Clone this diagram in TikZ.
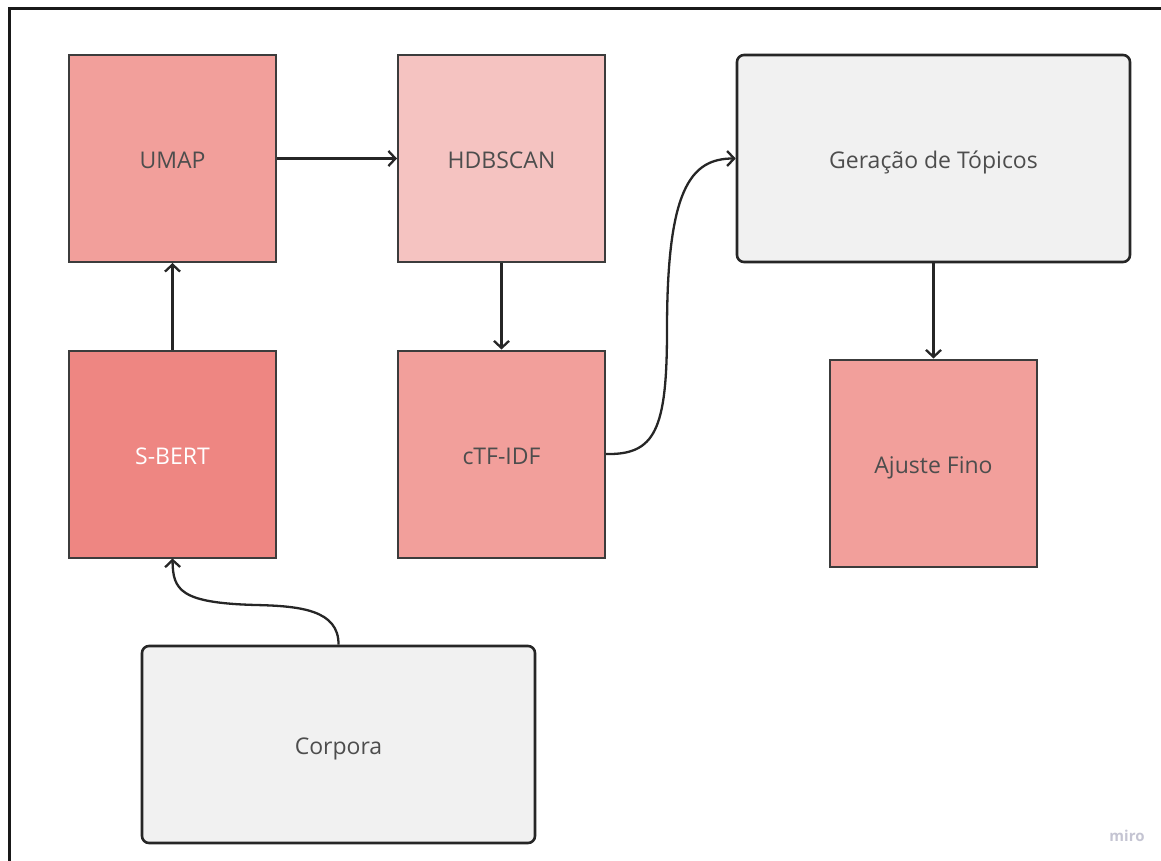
\documentclass[tikz,border=0pt]{standalone}
\usepackage{fontspec}
\setmainfont{Open Sans}
\usetikzlibrary{arrows.meta}
\definecolor{pinkbox}{HTML}{F29F9B}
\definecolor{palebox}{HTML}{F5C3C1}
\definecolor{deepbox}{HTML}{EE8682}
\definecolor{greybox}{HTML}{F1F1F1}
\definecolor{boxline}{HTML}{3C3C3C}
\definecolor{darkline}{HTML}{262626}
\definecolor{labeltext}{HTML}{4D4D4D}
\definecolor{logotext}{HTML}{C4C4D2}
\tikzset{
  x=1pt, y=-1pt,
  boxtext/.style={text=labeltext, font=\fontsize{23}{27}\selectfont,
    text height=25pt, text depth=4.5pt},
  stage/.style={boxtext, draw=boxline, line width=2pt, fill=pinkbox, inner sep=0pt,
    minimum width=207pt, minimum height=207pt},
  panel/.style={boxtext, draw=darkline, line width=2.6pt, fill=greybox, inner sep=0pt,
    rounded corners=7pt, minimum width=393pt, minimum height=207pt},
  flow/.style={draw=darkline, line width=2.3pt,
    -{Straight Barb[length=7pt,width=15pt,line width=2.3pt]}}
}
\begin{document}
\begin{tikzpicture}
\useasboundingbox (0,0) rectangle (1161,861);
% outer frame, running past the right and bottom edges
\draw[line width=3pt, black!90] (9,880) -- (9,9) -- (1180,9);

% pipeline stages
\node[stage] (umap) at (172.5,158.5) {UMAP};
\node[stage, fill=palebox] (hdb) at (501.5,158.5) {HDBSCAN};
\node[stage, fill=deepbox, text=white] (sbert) at (172.5,454) {S-BERT};
\node[stage] (ctfidf) at (501.5,454) {cTF-IDF};
\node[stage] (ajuste) at (933.5,463) {Ajuste Fino};
\node[panel] (geracao) at (933.5,158.5) {Geração de Tópicos};
\node[panel, minimum height=197pt] (corpora) at (338.5,744.5) {Corpora};

% connectors
\draw[flow] (umap.east) -- (hdb.west);
\draw[flow] (sbert.north) -- (umap.south);
\draw[flow] (hdb.south) -- (ctfidf.north);
\draw[flow] (geracao.south) -- (ajuste.north);
\draw[flow] (ctfidf.east) .. controls (655,455) and (667,430) .. (667,330)
  .. controls (667,190) and (690,158.5) .. (geracao.west);
\draw[flow] (corpora.north) .. controls (339,610) and (300,606) .. (256,605)
  .. controls (180,603) and (173,590) .. (sbert.south);

% logo mark
\node[text=logotext, font=\fontsize{15}{17}\selectfont\bfseries, inner sep=0pt] (logo) at (1127,836) {miro};
\end{tikzpicture}
\end{document}
